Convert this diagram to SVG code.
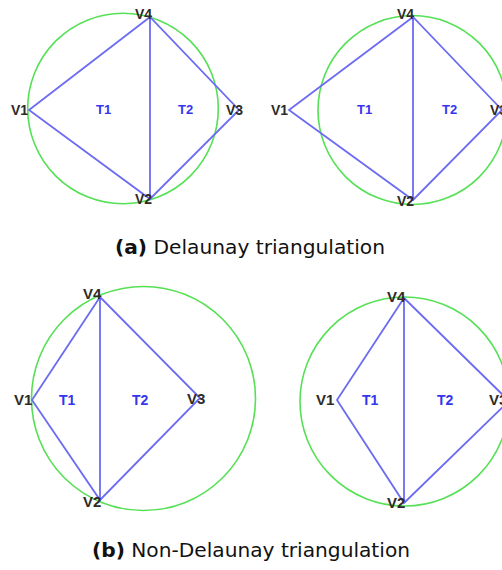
<svg xmlns="http://www.w3.org/2000/svg" width="502" height="570" viewBox="0 0 502 570">
<style>
.circ{fill:none;stroke:#55e055;stroke-width:1.6}
.edge{stroke:#6c6cf2;stroke-width:1.8;fill:none}
.v{font-family:"Liberation Sans",Arial,sans-serif;font-weight:bold;fill:#2e2a28}
.t{font-family:"Liberation Sans",Arial,sans-serif;font-weight:bold;fill:#3535f0}
.a{font-size:14px}
.b{font-size:15px}
.ta{font-size:13px}
.tb{font-size:14px}
.cap{font-family:"DejaVu Sans","Liberation Sans",sans-serif;font-size:19px;fill:#111}
</style>
<rect width="502" height="570" fill="#fff"/>
<!-- Panel a-left -->
<g id="a1">
<circle class="circ" cx="123" cy="108.5" r="95.3"/>
<g id="a1-edges">
<polyline class="edge" points="150,17 29,110 150,199 239,110 150,17 150,199"/>
</g>
<text class="v a" x="135" y="19">V4</text>
<text class="v a" x="11" y="115">V1</text>
<text class="v a" x="226" y="115">V3</text>
<text class="v a" x="135" y="204">V2</text>
<text class="t ta" x="96" y="114">T1</text>
<text class="t ta" x="178" y="114">T2</text>
</g>
<!-- Panel a-right -->
<g id="a2">
<circle class="circ" cx="412.5" cy="110" r="94.5"/>
<g id="a2-edges">
<polyline class="edge" points="413,17 289,110 413,200 502,110 413,17 413,200"/>
</g>
<text class="v a" x="397" y="19">V4</text>
<text class="v a" x="271" y="115">V1</text>
<text class="v a" x="490" y="115">V3</text>
<text class="v a" x="397" y="206">V2</text>
<text class="t ta" x="357" y="114">T1</text>
<text class="t ta" x="442" y="114">T2</text>
</g>
<!-- Panel b-left -->
<g id="b1">
<circle class="circ" cx="143.5" cy="398.5" r="112"/>
<g id="b1-edges">
<polyline class="edge" points="100,297 32,400 100,500 200,398 100,297 100,500"/>
</g>
<text class="v b" x="83" y="299">V4</text>
<text class="v b" x="14" y="405">V1</text>
<text class="v b" x="187" y="404">V3</text>
<text class="v b" x="83" y="507">V2</text>
<text class="t tb" x="59" y="405">T1</text>
<text class="t tb" x="132" y="405">T2</text>
</g>
<!-- Panel b-right -->
<g id="b2">
<circle class="circ" cx="404.5" cy="401.5" r="104.5"/>
<g id="b2-edges">
<polyline class="edge" points="404,298 337,400 404,503 509,401 404,298 404,503"/>
</g>
<text class="v b" x="387" y="302">V4</text>
<text class="v b" x="316" y="405">V1</text>
<text class="v b" x="489" y="405">V3</text>
<text class="v b" x="387" y="508">V2</text>
<text class="t tb" x="362" y="405">T1</text>
<text class="t tb" x="437" y="405">T2</text>
</g>
<text class="cap" x="115" y="254" textLength="270" lengthAdjust="spacingAndGlyphs"><tspan font-weight="bold">(a)</tspan> Delaunay triangulation</text>
<text class="cap" x="92" y="557" textLength="318" lengthAdjust="spacingAndGlyphs"><tspan font-weight="bold">(b)</tspan> Non-Delaunay triangulation</text>
</svg>
